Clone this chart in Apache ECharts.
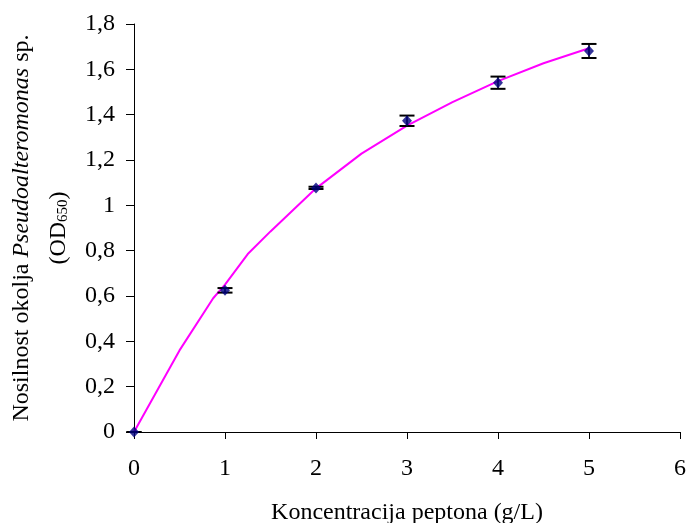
<!DOCTYPE html>
<html>
<head>
<meta charset="utf-8">
<title>Nosilnost okolja Pseudoalteromonas sp.</title>
<script src="https://cdn.jsdelivr.net/npm/echarts@6/dist/echarts.min.js"></script>
<style>
  html, body { margin: 0; padding: 0; background: #fff; }
  #chart { width: 686px; height: 523px; }
</style>
</head>
<body>
<div id="chart"></div>
<script>
// Measured optical density at each peptone concentration (mean ± error)
const concentration = [0, 1, 2, 3, 4, 5];
const odMean = [0, 0.625, 1.077, 1.373, 1.541, 1.681];
const odError = [0, 0.01, 0.005, 0.023, 0.027, 0.031];

// Fitted growth-capacity curve
const fitX = [0, 0.5, 0.87, 1, 1.25, 1.5, 2, 2.5, 3, 3.5, 4, 4.5, 5];
const fitY = [0, 0.36, 0.59, 0.65, 0.785, 0.885, 1.075, 1.228, 1.352, 1.455, 1.548, 1.627, 1.693];

// Axis tick labels
const xTickLabels = ['0', '1', '2', '3', '4', '5', '6'];
const yTickLabels = ['0', '0,2', '0,4', '0,6', '0,8', '1', '1,2', '1,4', '1,6', '1,8'];

const FONT = '"Liberation Serif", "DejaVu Serif", serif';
const FS = 24;

const chart = echarts.init(document.getElementById('chart'), null, { renderer: 'canvas' });

const meanPoints = concentration.map((x, i) => [x, odMean[i]]);
const errorData = concentration.map((x, i) => [x, odMean[i] - odError[i], odMean[i] + odError[i]]);
const fitPoints = fitX.map((x, i) => [x, fitY[i]]);

chart.setOption({
  animation: false,
  backgroundColor: '#ffffff',
  grid: { left: 134, right: 6, top: 24, bottom: 91, containLabel: false, outerBoundsMode: 'none' },
  xAxis: {
    type: 'value',
    min: 0, max: 6, interval: 1,
    name: 'Koncentracija peptona (g/L)',
    nameLocation: 'middle',
    nameGap: 69,
    nameTextStyle: { fontFamily: FONT, fontSize: FS, color: '#000' },
    axisLine: { show: true, onZero: false, lineStyle: { color: '#000', width: 1 } },
    axisTick: { show: true, length: 7, inside: false, lineStyle: { color: '#000' } },
    axisLabel: {
      margin: 25,
      fontFamily: FONT, fontSize: FS, color: '#000',
      formatter: (v) => xTickLabels[Math.round(v)]
    },
    splitLine: { show: false }
  },
  yAxis: {
    type: 'value',
    min: 0, max: 1.8, interval: 0.2,
    axisLine: { show: true, lineStyle: { color: '#000', width: 1 } },
    axisTick: { show: true, length: 8, inside: false, lineStyle: { color: '#000' } },
    axisLabel: {
      margin: 19,
      fontFamily: FONT, fontSize: FS, color: '#000',
      formatter: (v) => yTickLabels[Math.round(v / 0.2)]
    },
    splitLine: { show: false }
  },
  graphic: [{
    type: 'text',
    x: 40,
    y: 228,
    rotation: Math.PI / 2,
    style: {
      text: '{a|Nosilnost okolja }{i|Pseudoalteromonas}{a| sp.}\n{a|(OD}{s|650}{a|)}',
      align: 'center',
      verticalAlign: 'middle',
      fill: '#000',
      rich: {
        a: { fontFamily: FONT, fontSize: FS, lineHeight: 37, fill: '#000' },
        i: { fontFamily: FONT, fontSize: FS, fontStyle: 'italic', lineHeight: 37, fill: '#000' },
        s: { fontFamily: FONT, fontSize: 15, lineHeight: 15, fill: '#000', verticalAlign: 'middle', padding: [10, 0, 0, 0] }
      }
    }
  }],
  series: [
    {
      name: 'fit',
      type: 'line',
      data: fitPoints,
      showSymbol: false,
      symbol: 'none',
      smooth: false,
      lineStyle: { color: '#ff00ff', width: 2 },
      z: 2
    },
    {
      name: 'error',
      type: 'custom',
      data: errorData,
      renderItem: (params, api) => {
        const x = api.value(0);
        const lo = api.coord([x, api.value(1)]);
        const hi = api.coord([x, api.value(2)]);
        const half = 7.5;
        const capStyle = { stroke: '#000', lineWidth: 2 };
        return {
          type: 'group',
          children: [
            { type: 'line', shape: { x1: lo[0], y1: lo[1], x2: hi[0], y2: hi[1] }, style: { stroke: '#000', lineWidth: 1.6 } },
            { type: 'line', shape: { x1: lo[0] - half, y1: lo[1], x2: lo[0] + half, y2: lo[1] }, style: capStyle },
            { type: 'line', shape: { x1: hi[0] - half, y1: hi[1], x2: hi[0] + half, y2: hi[1] }, style: capStyle }
          ]
        };
      },
      z: 3
    },
    {
      name: 'mean',
      type: 'scatter',
      data: meanPoints,
      symbol: 'diamond',
      symbolSize: [10, 11],
      itemStyle: { color: '#000080' },
      z: 4
    }
  ]
});
</script>
</body>
</html>
